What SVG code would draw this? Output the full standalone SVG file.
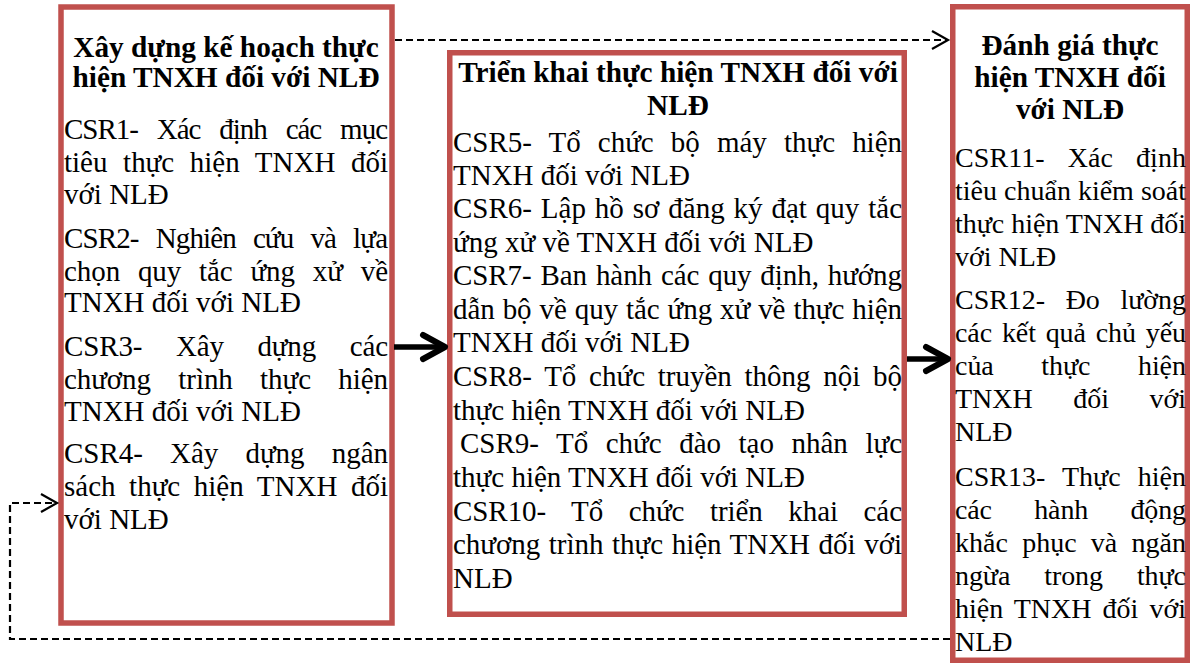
<svg xmlns="http://www.w3.org/2000/svg" width="1192" height="664" viewBox="0 0 1192 664">
  <defs>
    <style>
      .box { fill: #ffffff; stroke: #C0504D; stroke-width: 5.5; }
      .title { font-family: "Liberation Serif", "Times New Roman", serif; font-weight: bold; font-size: 29.3px; fill: #000; text-anchor: middle; }
      .body { font-family: "Liberation Serif", "Times New Roman", serif; font-size: 29px; fill: #000; }
      .body28 { font-family: "Liberation Serif", "Times New Roman", serif; font-size: 28px; fill: #000; }
      .solid { fill: none; stroke: #000; stroke-width: 5.5; }
      .dashed { fill: none; stroke: #000; stroke-width: 2.2; stroke-dasharray: 7 4; }
    </style>
    <marker id="headBold" viewBox="-28 -18 34 36" refX="0" refY="0" markerWidth="34" markerHeight="36" markerUnits="userSpaceOnUse" orient="auto">
      <path d="M-22,-12 L0,0 L-22,12" fill="none" stroke="#000" stroke-width="6" stroke-linecap="round" stroke-linejoin="round"/>
    </marker>
    <marker id="headThin" viewBox="-20 -12 24 24" refX="0" refY="0" markerWidth="24" markerHeight="24" markerUnits="userSpaceOnUse" orient="auto">
      <path d="M-16,-9 L0,0 L-16,9" fill="none" stroke="#000" stroke-width="2.2"/>
    </marker>
  </defs>

  <!-- Planning stage -->
  <g id="plan">
    <rect class="box" x="61" y="7" width="331" height="616"/>
    <text class="title" x="226" y="57">Xây dựng kế hoạch thực</text>
    <text class="title" x="226" y="87">hiện TNXH đối với NLĐ</text>
    <text class="body" x="64" y="139" textLength="324" lengthAdjust="spacing" style="word-spacing:12.7px">CSR1- Xác định các mục</text>
    <text class="body" x="64" y="171.5" textLength="324" lengthAdjust="spacing" style="word-spacing:8.4px">tiêu thực hiện TNXH đối</text>
    <text class="body" x="64" y="204">với NLĐ</text>
    <text class="body" x="64" y="248" textLength="324" lengthAdjust="spacing" style="word-spacing:10.7px">CSR2- Nghiên cứu và lựa</text>
    <text class="body" x="64" y="280.5" textLength="324" lengthAdjust="spacing" style="word-spacing:10.6px">chọn quy tắc ứng xử về</text>
    <text class="body" x="64" y="312">TNXH đối với NLĐ</text>
    <text class="body" x="64" y="356" textLength="324" lengthAdjust="spacing" style="word-spacing:26.4px">CSR3- Xây dựng các</text>
    <text class="body" x="64" y="388.5" textLength="324" lengthAdjust="spacing" style="word-spacing:20.2px">chương trình thực hiện</text>
    <text class="body" x="64" y="420.5">TNXH đối với NLĐ</text>
    <text class="body" x="64" y="462.5" textLength="324" lengthAdjust="spacing" style="word-spacing:20px">CSR4- Xây dựng ngân</text>
    <text class="body" x="64" y="495.5" textLength="324" lengthAdjust="spacing" style="word-spacing:6.4px">sách thực hiện TNXH đối</text>
    <text class="body" x="64" y="529">với NLĐ</text>
  </g>

  <!-- Implementation stage -->
  <g id="implement">
    <rect class="box" x="449.75" y="52.75" width="454.5" height="561.5"/>
    <text class="title" x="678" y="82">Triển khai thực hiện TNXH đối với</text>
    <text class="title" x="678" y="115">NLĐ</text>
    <text class="body" x="453" y="151.5" textLength="449" lengthAdjust="spacing" style="word-spacing:9.9px">CSR5- Tổ chức bộ máy thực hiện</text>
    <text class="body" x="453" y="184.5">TNXH đối với NLĐ</text>
    <text class="body" x="453" y="218" textLength="449" lengthAdjust="spacing" style="word-spacing:1.7px">CSR6- Lập hồ sơ đăng ký đạt quy tắc</text>
    <text class="body" x="453" y="251.5">ứng xử về TNXH đối với NLĐ</text>
    <text class="body" x="453" y="285" textLength="449" lengthAdjust="spacing" style="word-spacing:1.7px">CSR7- Ban hành các quy định, hướng</text>
    <text class="body" x="453" y="318.5" textLength="449" lengthAdjust="spacing" style="word-spacing:0.8px">dẫn bộ về quy tắc ứng xử về thực hiện</text>
    <text class="body" x="453" y="352.2">TNXH đối với NLĐ</text>
    <text class="body" x="453" y="385.9" textLength="449" lengthAdjust="spacing" style="word-spacing:5.5px">CSR8- Tổ chức truyền thông nội bộ</text>
    <text class="body" x="453" y="419.6">thực hiện TNXH đối với NLĐ</text>
    <text class="body" x="460" y="453.3" textLength="442" lengthAdjust="spacing" style="word-spacing:10.4px">CSR9- Tổ chức đào tạo nhân lực</text>
    <text class="body" x="453" y="487">thực hiện TNXH đối với NLĐ</text>
    <text class="body" x="453" y="520.7" textLength="449" lengthAdjust="spacing" style="word-spacing:18.3px">CSR10- Tổ chức triển khai các</text>
    <text class="body" x="453" y="554.4" textLength="449" lengthAdjust="spacing" style="word-spacing:1.4px">chương trình thực hiện TNXH đối với</text>
    <text class="body" x="453" y="588.1">NLĐ</text>
  </g>

  <!-- Evaluation stage -->
  <g id="evaluate">
    <rect class="box" x="952.75" y="6.75" width="234.5" height="653.5"/>
    <text class="title" x="1070" y="55">Đánh giá thực</text>
    <text class="title" x="1070" y="87">hiện TNXH đối</text>
    <text class="title" x="1070" y="119">với NLĐ</text>
    <text class="body28" x="955" y="167" textLength="231" lengthAdjust="spacing" style="word-spacing:16px">CSR11- Xác định</text>
    <text class="body28" x="955" y="200" textLength="231" lengthAdjust="spacing">tiêu chuẩn kiểm soát</text>
    <text class="body28" x="955" y="233" textLength="231" lengthAdjust="spacing">thực hiện TNXH đối</text>
    <text class="body28" x="955" y="266">với NLĐ</text>
    <text class="body28" x="955" y="309" textLength="231" lengthAdjust="spacing" style="word-spacing:13.7px">CSR12- Đo lường</text>
    <text class="body28" x="955" y="342" textLength="231" lengthAdjust="spacing" style="word-spacing:2.9px">các kết quả chủ yếu</text>
    <text class="body28" x="955" y="375" textLength="231" lengthAdjust="spacing" style="word-spacing:40.6px">của thực hiện</text>
    <text class="body28" x="955" y="408" textLength="231" lengthAdjust="spacing" style="word-spacing:33.6px">TNXH đối với</text>
    <text class="body28" x="955" y="441">NLĐ</text>
    <text class="body28" x="955" y="486" textLength="231" lengthAdjust="spacing" style="word-spacing:10.2px">CSR13- Thực hiện</text>
    <text class="body28" x="955" y="519" textLength="231" lengthAdjust="spacing" style="word-spacing:35.4px">các hành động</text>
    <text class="body28" x="955" y="552" textLength="231" lengthAdjust="spacing" style="word-spacing:7.3px">khắc phục và ngăn</text>
    <text class="body28" x="955" y="585" textLength="231" lengthAdjust="spacing" style="word-spacing:27.1px">ngừa trong thực</text>
    <text class="body28" x="955" y="618" textLength="231" lengthAdjust="spacing" style="word-spacing:4px">hiện TNXH đối với</text>
    <text class="body28" x="955" y="651">NLĐ</text>
  </g>

  <!-- Flow between stages -->
  <g id="connectors">
    <path class="solid" d="M394,347 H445" marker-end="url(#headBold)"/>
    <path class="solid" d="M907,359 H948" marker-end="url(#headBold)"/>
    <path class="dashed" d="M395,40 H948" marker-end="url(#headThin)"/>
    <path class="dashed" d="M950,639 H10 V503 H57" marker-end="url(#headThin)"/>
  </g>
</svg>
